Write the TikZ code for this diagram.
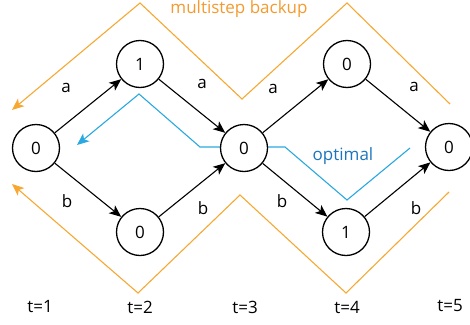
\documentclass[tikz,border=0pt]{standalone}
\usepackage{fontspec}
\setmainfont{Open Sans}
\usetikzlibrary{arrows.meta}
\definecolor{backup}{HTML}{F7A833}
\definecolor{backuptext}{HTML}{F49A2E}
\definecolor{optline}{HTML}{2AA8E0}
\definecolor{opttext}{HTML}{1B75BC}
\tikzset{
  state/.style={circle, draw=black, line width=1.3pt, fill=white, minimum size=47pt, inner sep=0pt, font=\fontsize{17}{20}\selectfont},
  trans/.style={line width=1.1pt, -{Stealth[length=12pt,width=10pt,inset=3pt]}},
  lbl/.style={font=\fontsize{17}{20}\selectfont},
  path/.style={line width=1.1pt, -{Stealth[length=12pt,width=10pt,inset=3pt]}}
}
\begin{document}
\begin{tikzpicture}[x=1pt,y=-1pt]
\useasboundingbox (0,0) rectangle (470,324);

% backup paths (drawn first, behind the states)
\draw[path, backup] (450,104) -- (347,3) -- (242,99) -- (140,3) -- (12,110);
\draw[path, backup] (449,192) -- (346,293) -- (240,195) -- (138,293) -- (12,184);
\draw[path, optline] (410,148) -- (347,200) -- (285,147) -- (200,147) -- (139,94) -- (77,145);

% states
\node[state] (s1)  at (36,148)  {0};
\node[state] (s2a) at (140,64)  {1};
\node[state] (s2b) at (140,232) {0};
\node[state] (s3)  at (244,148) {0};
\node[state] (s4a) at (347,64)  {0};
\node[state] (s4b) at (346,232) {1};
\node[state] (s5)  at (449,147) {0};

% transitions
\draw[trans] (s1) -- (s2a);
\draw[trans] (s2a) -- (s3);
\draw[trans] (s1) -- (s2b);
\draw[trans] (s2b) -- (s3);
\draw[trans] (s3) -- (s4a);
\draw[trans] (s4a) -- (s5);
\draw[trans] (s3) -- (s4b);
\draw[trans] (s4b) -- (s5);

% action labels
\node[lbl] (la1) at (66,88)  {a};
\node[lbl] (la2) at (202,84) {a};
\node[lbl] (lb1) at (67,201) {b};
\node[lbl] (lb2) at (203,208) {b};
\node[lbl] (la3) at (273,89) {a};
\node[lbl] (la4) at (414,87) {a};
\node[lbl] (lb3) at (282,201) {b};
\node[lbl] (lb4) at (416,208) {b};

% path captions
\node[lbl, text=backuptext, anchor=base, inner sep=0pt] (mb) at (239,13) {multistep backup};
\node[lbl, text=opttext] (op) at (343,156) {optimal};

% time steps
\node[lbl] (t1) at (40,307)  {t=1};
\node[lbl] (t2) at (140,307) {t=2};
\node[lbl] (t3) at (245,307) {t=3};
\node[lbl] (t4) at (347,307) {t=4};
\node[lbl] (t5) at (450,306) {t=5};
\end{tikzpicture}
\end{document}
